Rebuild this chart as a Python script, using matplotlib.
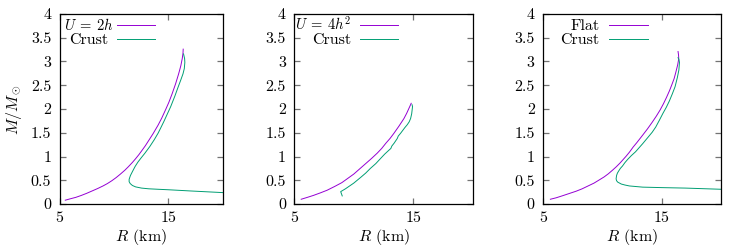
import matplotlib
matplotlib.use("Agg")
import matplotlib.pyplot as plt
from matplotlib.ticker import FuncFormatter, FixedLocator, MultipleLocator

plt.rcParams['font.family'] = ['cmr10', 'DejaVu Serif']
plt.rcParams['mathtext.fontset'] = 'cm'
plt.rcParams['axes.formatter.use_mathtext'] = True
plt.rcParams['font.size'] = 11.5

PURPLE = '#9400d3'
GREEN = '#009e73'

# panel 1: U = 2h
r_2h = [5.53, 6.0, 6.5, 7.0, 7.5, 8.0, 8.5, 9.0, 9.4, 9.81, 10.2, 10.6, 11.0,
        11.33, 11.7, 12.0, 12.3, 12.54, 12.9, 13.18, 13.6, 14.06, 14.4, 14.76,
        15.05, 15.35, 15.67, 15.95, 16.15, 16.28, 16.35, 16.37]
m_2h = [0.08, 0.11, 0.14, 0.18, 0.225, 0.275, 0.325, 0.38, 0.43, 0.49, 0.555, 0.63,
        0.71, 0.785, 0.875, 0.955, 1.04, 1.115, 1.23, 1.33, 1.48, 1.66, 1.81, 1.99,
        2.14, 2.32, 2.53, 2.74, 2.91, 3.06, 3.17, 3.26]
r_2h_crust = [16.40, 16.50, 16.52, 16.47, 16.35, 16.13, 15.9, 15.6, 15.22, 14.9,
              14.6, 14.3, 14.06, 13.70, 13.3, 12.85, 12.5, 12.2, 11.95, 11.72,
              11.52, 11.40, 11.40, 11.50, 11.7, 12.0, 12.54, 13.2, 14.06, 15.0,
              17.0, 20.0]
m_2h_crust = [3.16, 3.06, 2.98, 2.85, 2.74, 2.60, 2.46, 2.27, 2.05, 1.89,
              1.74, 1.60, 1.49, 1.35, 1.21, 1.07, 0.97, 0.88, 0.79, 0.69,
              0.60, 0.52, 0.47, 0.43, 0.39, 0.36, 0.335, 0.32, 0.31, 0.30,
              0.275, 0.24]

# panel 2: U = 4h^2
r_4h2 = [5.58, 6.1, 6.6, 7.2, 7.76, 8.4, 9.0, 9.5, 10.0, 10.5, 11.0, 11.5, 11.97,
         12.35, 12.7, 13.05, 13.38, 13.8, 14.22, 14.45, 14.65, 14.83]
m_4h2 = [0.10, 0.14, 0.18, 0.235, 0.29, 0.37, 0.45, 0.54, 0.63, 0.74, 0.85, 0.96,
         1.07, 1.17, 1.28, 1.38, 1.49, 1.64, 1.80, 1.91, 2.02, 2.12]
r_4h2_crust = [9.03, 8.9, 9.3, 9.65, 10.0, 10.58, 11.0, 11.4, 11.85, 12.26, 12.6,
               12.9, 13.12, 13.2, 13.39, 13.66, 13.74, 13.94, 14.3, 14.5, 14.66,
               14.78, 14.87, 14.94, 14.90]
m_4h2_crust = [0.17, 0.26, 0.32, 0.38, 0.44, 0.56, 0.65, 0.75, 0.85, 0.96, 1.05,
               1.12, 1.17, 1.22, 1.28, 1.38, 1.43, 1.49, 1.61, 1.67, 1.73,
               1.80, 1.90, 2.05, 2.09]

# panel 3: flat
r_flat = [5.62, 6.1, 6.6, 7.2, 7.8, 8.3, 8.8, 9.3, 9.76, 10.15, 10.5, 10.85,
          11.16, 11.5, 11.75, 12.0, 12.28, 12.6, 12.9, 13.15, 13.4, 13.8, 14.2,
          14.55, 14.87, 15.15, 15.4, 15.65, 15.84, 16.05, 16.2, 16.35, 16.44,
          16.42, 16.38]
m_flat = [0.10, 0.13, 0.17, 0.22, 0.27, 0.32, 0.38, 0.44, 0.51, 0.57, 0.635, 0.71,
          0.78, 0.865, 0.935, 1.005, 1.09, 1.20, 1.29, 1.37, 1.45, 1.58, 1.72,
          1.85, 1.98, 2.11, 2.24, 2.38, 2.50, 2.64, 2.78, 2.93, 3.06,
          3.14, 3.21]
r_flat_crust = [16.38, 16.46, 16.50, 16.45, 16.32, 16.13, 15.9, 15.65, 15.4,
                15.11, 14.8, 14.5, 14.2, 13.9, 13.4, 12.8, 12.45, 12.14, 11.9,
                11.7, 11.52, 11.39, 11.27, 11.2, 11.16, 11.2, 11.3, 11.6, 11.9,
                12.28, 13.4, 15.0, 17.0, 20.0]
m_flat_crust = [3.08, 3.04, 2.98, 2.82, 2.66, 2.47, 2.32, 2.17, 2.04,
                1.91, 1.76, 1.62, 1.51, 1.42, 1.27, 1.10, 1.02, 0.94, 0.87,
                0.80, 0.75, 0.70, 0.65, 0.60, 0.53, 0.49, 0.46, 0.42, 0.40,
                0.38, 0.355, 0.345, 0.335, 0.31]

panels = [
    (r'$U\:=\:2h$', r_2h, m_2h, r_2h_crust, m_2h_crust),
    (r'$U\:=\:4h^2$', r_4h2, m_4h2, r_4h2_crust, m_4h2_crust),
    ('Flat', r_flat, m_flat, r_flat_crust, m_flat_crust),
]

W, H = 747, 249
fig = plt.figure(figsize=(W / 100, H / 100), dpi=100)
# axes boxes in pixels (left, right)
boxes = [(59.5, 222.7), (294.3, 472.7), (543, 721)]
top, bottom = 14, 204
# key: text right edges (curve, crust), line start, line end (axes fraction)
keys = [(0.328, 0.300, 0.352, 0.585), (0.321, 0.318, 0.368, 0.583),
        (0.320, 0.318, 0.369, 0.588)]

fmt = FuncFormatter(lambda v, p: '%g' % v)

for i, (lab, r, m, rc, mc) in enumerate(panels):
    l, rr = boxes[i]
    ax = fig.add_axes([l / W, (H - bottom) / H, (rr - l) / W, (bottom - top) / H])
    ax.plot(r, m, color=PURPLE, lw=0.7)
    ax.plot(rc, mc, color=GREEN, lw=0.7)
    ax.set_xlim(5, 20)
    ax.set_ylim(0, 4)
    ax.xaxis.set_major_locator(FixedLocator([5, 15]))
    ax.yaxis.set_major_locator(MultipleLocator(0.5))
    ax.xaxis.set_major_formatter(fmt)
    ax.yaxis.set_major_formatter(fmt)
    ax.tick_params(direction='in', top=True, right=True, length=4, width=0.9,
                   color='0.45', labelsize=11.5)
    ax.tick_params(axis='y', pad=6)
    ax.tick_params(axis='x', pad=5)
    for s in ax.spines.values():
        s.set_linewidth(0.9)
    ax.set_xlabel(r'$R$ (km)', labelpad=2)
    if i == 0:
        ax.set_ylabel(r'$M/M_\odot$', labelpad=5)
    t1, t2, x0, x1 = keys[i]
    fs1 = 10.5 if lab.startswith('$') else 11.5
    for (txt, col, y, tx, fs) in [(lab, PURPLE, 0.942, t1, fs1),
                                  ('Crust', GREEN, 0.868, t2, 11.5)]:
        ax.text(tx, y - 0.025, txt, transform=ax.transAxes, ha='right',
                va='baseline', fontsize=fs)
        ax.plot([x0, x1], [y, y], transform=ax.transAxes, color=col, lw=0.7)

fig.savefig('out.png', dpi=100)
